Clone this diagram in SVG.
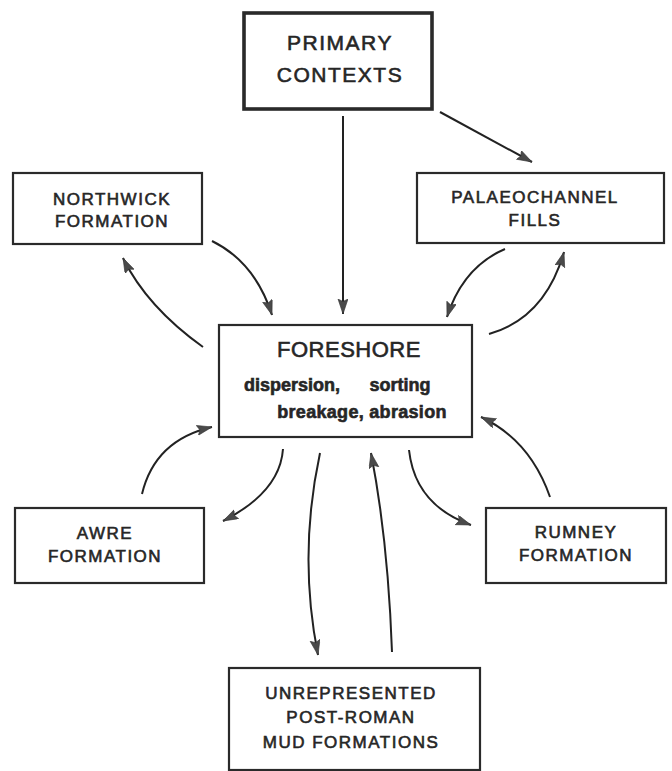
<svg xmlns="http://www.w3.org/2000/svg" width="672" height="771" viewBox="0 0 672 771">
<defs>
<style>
.bx{fill:none;stroke:#2a2a2a;stroke-width:2.2}
.bx2{fill:none;stroke:#2a2a2a;stroke-width:3.6}
.t{font-family:"Liberation Sans",Arial,sans-serif;fill:#262626;text-anchor:middle;stroke:#262626;stroke-width:0.6}
.c{fill:none;stroke:#222;stroke-width:2;marker-end:url(#ah)}
</style>
<marker id="ah" markerUnits="userSpaceOnUse" markerWidth="18" markerHeight="12" refX="15" refY="5" orient="auto">
<path d="M0,0 L15,5 L0,10 L2.5,5 z" fill="#4a4a4a" stroke="#333" stroke-width="0.6"/>
</marker>
</defs>
<rect width="672" height="771" fill="#fff"/>
<g id="connectors">
<path class="c" d="M343,116 L343,314"/>
<path class="c" d="M440,112 L532,162"/>
<path class="c" d="M212,241 Q255,262 272,315"/>
<path class="c" d="M203,347 Q147,307 123,258"/>
<path class="c" d="M505,249 Q463,267 447,317"/>
<path class="c" d="M489,334 Q545,318 564,252"/>
<path class="c" d="M283,449 Q280,492 223,521"/>
<path class="c" d="M142,494 Q155,440 212,427"/>
<path class="c" d="M320,453 Q298,555 318,655"/>
<path class="c" d="M392,652 Q388,540 371,453"/>
<path class="c" d="M409,450 Q415,505 471,525"/>
<path class="c" d="M550,497 Q530,440 481,417"/>
</g>
<g id="primary">
<rect class="bx2" x="244" y="13" width="188" height="96"/>
<text class="t" x="340" y="50" font-size="21" letter-spacing="1.5">PRIMARY</text>
<text class="t" x="340" y="82" font-size="21" letter-spacing="1.5">CONTEXTS</text>
</g>
<g id="northwick">
<rect class="bx" x="13" y="173" width="189" height="71"/>
<text class="t" x="112" y="205" font-size="17" letter-spacing="1.5">NORTHWICK</text>
<text class="t" x="112" y="227" font-size="17" letter-spacing="1.5">FORMATION</text>
</g>
<g id="palaeochannel">
<rect class="bx" x="417" y="173" width="247" height="70"/>
<text class="t" x="535" y="203" font-size="17" letter-spacing="1.5">PALAEOCHANNEL</text>
<text class="t" x="535" y="226" font-size="17" letter-spacing="1.5">FILLS</text>
</g>
<g id="foreshore">
<rect class="bx" x="219" y="325" width="253" height="112"/>
<text class="t" x="349" y="357" font-size="22" letter-spacing="0.5">FORESHORE</text>
<text class="t" x="292" y="391" font-size="18" font-weight="bold" stroke-width="0">dispersion,</text>
<text class="t" x="400" y="391" font-size="18" font-weight="bold" stroke-width="0">sorting</text>
<text class="t" x="362" y="418" font-size="18" font-weight="bold" stroke-width="0" letter-spacing="0.3">breakage, abrasion</text>
</g>
<g id="awre">
<rect class="bx" x="15" y="508" width="189" height="75"/>
<text class="t" x="105" y="539" font-size="17" letter-spacing="1.5">AWRE</text>
<text class="t" x="105" y="562" font-size="17" letter-spacing="1.5">FORMATION</text>
</g>
<g id="rumney">
<rect class="bx" x="486" y="508" width="180" height="75"/>
<text class="t" x="576" y="538" font-size="17" letter-spacing="1.5">RUMNEY</text>
<text class="t" x="576" y="561" font-size="17" letter-spacing="1.5">FORMATION</text>
</g>
<g id="unrepresented">
<rect class="bx" x="229" y="668" width="251" height="102"/>
<text class="t" x="351" y="699" font-size="17" letter-spacing="1.5">UNREPRESENTED</text>
<text class="t" x="351" y="723" font-size="17" letter-spacing="1.5">POST-ROMAN</text>
<text class="t" x="351" y="748" font-size="17" letter-spacing="1.5">MUD FORMATIONS</text>
</g>
</svg>
